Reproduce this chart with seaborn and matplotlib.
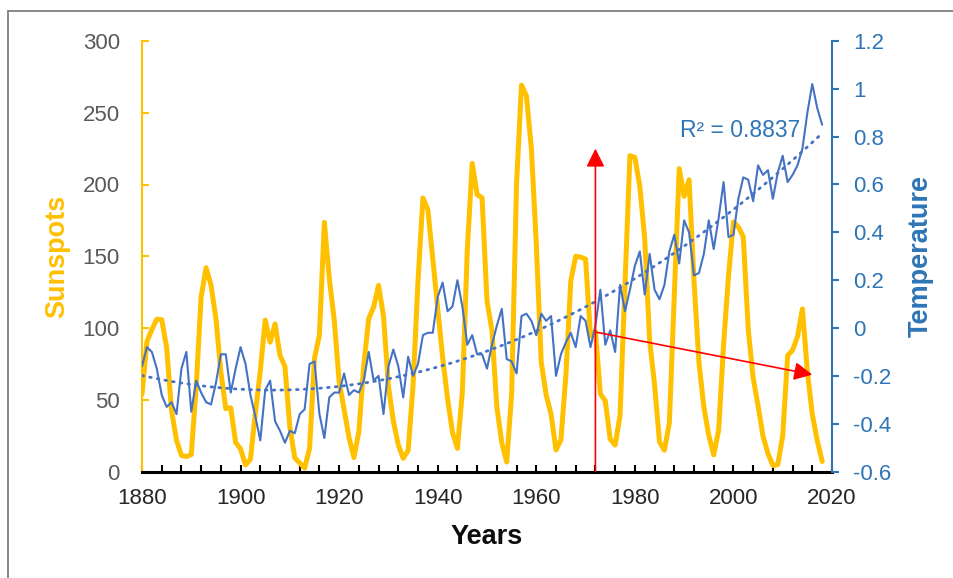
import numpy as np
import pandas as pd
import matplotlib
matplotlib.use("Agg")
import matplotlib.pyplot as plt
import seaborn as sns
from matplotlib.ticker import MultipleLocator, FuncFormatter
from matplotlib.lines import Line2D

# ---------------- data ----------------
years = list(range(1880, 2019))

sunspots = [
    53.7, 90.5, 99.0, 106.1, 105.8, 86.3, 42.4, 21.8, 11.2, 10.4,      # 1880-1889
    11.8, 59.5, 121.7, 142.0, 130.0, 106.6, 69.4, 43.8, 44.4, 20.2,    # 1890-1899
    15.7, 4.6, 8.5, 40.8, 70.1, 105.5, 90.1, 102.8, 80.9, 73.2,        # 1900-1909
    30.9, 9.5, 6.0, 2.4, 16.1, 79.0, 95.0, 173.6, 134.6, 105.7,        # 1910-1919
    62.7, 43.5, 23.7, 9.7, 27.9, 74.0, 106.5, 114.7, 129.7, 108.2,     # 1920-1929
    59.4, 35.1, 18.6, 9.2, 14.6, 60.2, 132.8, 190.6, 182.6, 148.0,     # 1930-1939
    113.0, 79.2, 50.8, 27.1, 16.1, 55.3, 154.3, 214.7, 193.0, 190.7,   # 1940-1949
    118.9, 98.3, 45.0, 20.1, 6.6, 54.2, 200.7, 269.3, 261.7, 225.1,    # 1950-1959
    159.0, 76.4, 53.4, 39.9, 15.0, 22.0, 66.8, 132.9, 150.0, 149.4,    # 1960-1969
    148.0, 94.4, 97.6, 54.1, 49.2, 22.5, 18.4, 39.3, 131.0, 220.1,     # 1970-1979
    218.9, 198.9, 162.4, 91.0, 60.5, 20.6, 14.8, 33.9, 123.0, 211.1,   # 1980-1989
    191.8, 203.3, 133.0, 76.1, 44.9, 25.1, 11.6, 28.9, 88.3, 136.3,    # 1990-1999
    173.9, 170.4, 163.6, 99.3, 65.3, 45.8, 24.7, 12.6, 4.2, 4.8,       # 2000-2009
    24.9, 80.8, 84.5, 94.0, 113.3, 69.8, 39.8, 21.7, 7.0,              # 2010-2018
]

temperature = [
    -0.16, -0.08, -0.10, -0.17, -0.28, -0.33, -0.31, -0.36, -0.17, -0.10,  # 1880s
    -0.35, -0.22, -0.27, -0.31, -0.32, -0.23, -0.11, -0.11, -0.27, -0.17,  # 1890s
    -0.08, -0.15, -0.28, -0.37, -0.47, -0.26, -0.22, -0.39, -0.43, -0.48,  # 1900s
    -0.43, -0.44, -0.36, -0.34, -0.15, -0.14, -0.36, -0.46, -0.29, -0.27,  # 1910s
    -0.27, -0.19, -0.28, -0.26, -0.27, -0.22, -0.10, -0.22, -0.20, -0.36,  # 1920s
    -0.16, -0.09, -0.16, -0.29, -0.12, -0.20, -0.15, -0.03, -0.02, -0.02,  # 1930s
    0.13, 0.19, 0.07, 0.09, 0.20, 0.09, -0.07, -0.03, -0.11, -0.11,        # 1940s
    -0.17, -0.07, 0.01, 0.08, -0.13, -0.14, -0.19, 0.05, 0.06, 0.03,       # 1950s
    -0.03, 0.06, 0.03, 0.05, -0.20, -0.11, -0.06, -0.02, -0.08, 0.05,      # 1960s
    0.03, -0.08, 0.01, 0.16, -0.07, -0.01, -0.10, 0.18, 0.07, 0.16,        # 1970s
    0.26, 0.32, 0.14, 0.31, 0.16, 0.12, 0.18, 0.32, 0.39, 0.27,            # 1980s
    0.45, 0.40, 0.22, 0.23, 0.31, 0.45, 0.33, 0.46, 0.61, 0.38,            # 1990s
    0.39, 0.54, 0.63, 0.62, 0.53, 0.68, 0.64, 0.66, 0.54, 0.65,            # 2000s
    0.72, 0.61, 0.64, 0.68, 0.75, 0.90, 1.02, 0.92, 0.85,                  # 2010s
]

r2_label = "R² = 0.8837"
x_label = "Years"
left_label = "Sunspots"
right_label = "Temperature"

# annotation arrows (year, sunspot value)
arrow_up = [(1972, 0), (1972, 225)]
arrow_diag = [(1972.3, 97), (2016, 67.5)]

# ---------------- style ----------------
sns.set_theme(style="ticks")
plt.rcParams["font.family"] = ["Liberation Sans", "DejaVu Sans"]
plt.rcParams["axes.unicode_minus"] = False

gold = "#FFC000"
line_blue = "#4472C4"
axis_blue = "#2E75B6"

df = pd.DataFrame({"Year": years, "Sunspots": sunspots, "Temperature": temperature})
coef = np.polyfit(df["Year"], df["Temperature"], 2)
df["Trend"] = np.polyval(coef, df["Year"])

fig = plt.figure(figsize=(9.54, 5.78), dpi=100)
ax = fig.add_axes([142 / 954, 106.5 / 578, 690 / 954, 430.5 / 578])
ax2 = ax.twinx()

sns.lineplot(data=df, x="Year", y="Sunspots", ax=ax, color=gold, lw=3.6,
             solid_joinstyle="round", solid_capstyle="round")
sns.lineplot(data=df, x="Year", y="Temperature", ax=ax2, color=line_blue, lw=1.5,
             solid_joinstyle="round")
sns.lineplot(data=df, x="Year", y="Trend", ax=ax2, color=line_blue, lw=2.0,
             linestyle=(0, (0.6, 2.2)), dash_capstyle="round")

ax.set_xlim(1880, 2020)
ax.set_ylim(0, 300)
ax2.set_ylim(-0.6, 1.2)

ax.xaxis.set_major_locator(MultipleLocator(20))
ax.xaxis.set_minor_locator(MultipleLocator(4))
ax.yaxis.set_major_locator(MultipleLocator(50))
ax2.yaxis.set_major_locator(MultipleLocator(0.2))
ax2.yaxis.set_major_formatter(FuncFormatter(lambda v, p: f"{round(v, 1) + 0.0:g}"))

ax.tick_params(axis="y", direction="in", length=5, width=1.5, color=gold,
               labelcolor="#595959", labelsize=16, pad=16)
ax.tick_params(axis="x", which="both", direction="in", length=5, width=1.5,
               color="black", labelcolor="#262626", labelsize=16, pad=12)
ax2.tick_params(axis="y", direction="out", length=5, width=1.5, color=axis_blue,
                labelcolor=axis_blue, labelsize=16, pad=10)

for s in ["top", "right"]:
    ax.spines[s].set_visible(False)
ax.spines["left"].set_color(gold)
ax.spines["left"].set_linewidth(1.5)
ax.spines["bottom"].set_color("black")
ax.spines["bottom"].set_linewidth(2.2)
for s in ["top", "left", "bottom"]:
    ax2.spines[s].set_visible(False)
ax2.spines["right"].set_color(axis_blue)
ax2.spines["right"].set_linewidth(1.5)

ax.set_ylabel(left_label, color=gold, fontsize=19.5, fontweight="bold")
ax.yaxis.set_label_coords(-0.104, 0.5)
ax2.set_ylabel(right_label, color=axis_blue, fontsize=19.5, fontweight="bold")
ax2.yaxis.set_label_coords(1.110, 0.5)
ax.set_xlabel(x_label, color="#0d0d0d", fontsize=19.5, fontweight="bold")
ax.xaxis.set_label_coords(0.5, -0.121)

ax2.text(2013.5, 0.827, r2_label, ha="right", va="center", color=axis_blue, fontsize=16.5)

for (p0, p1) in [arrow_up, arrow_diag]:
    ann = ax2.annotate("", xy=p1, xytext=p0, xycoords=ax.transData, textcoords=ax.transData,
                       arrowprops=dict(arrowstyle="-|>,head_length=0.5,head_width=0.25",
                                       color="#FF0000", lw=1.2, mutation_scale=22,
                                       shrinkA=0, shrinkB=0))
    ann.set_zorder(10)

# outer frame lines
fig.add_artist(Line2D([8 / 954, 1], [1 - 11 / 578, 1 - 11 / 578], transform=fig.transFigure,
                      color="#7f7f7f", lw=1.3))
fig.add_artist(Line2D([8 / 954, 8 / 954], [0, 1 - 11 / 578], transform=fig.transFigure,
                      color="#7f7f7f", lw=1.3))

fig.savefig("out.png", dpi=100)
